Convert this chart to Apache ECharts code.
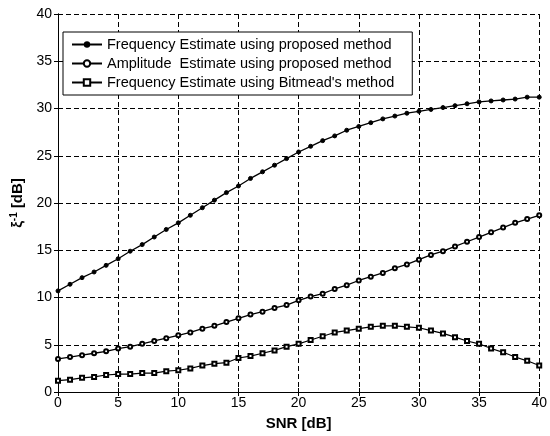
<!DOCTYPE html>
<html>
<head>
<meta charset="utf-8">
<script src="https://cdn.jsdelivr.net/npm/echarts@6/dist/echarts.min.js"></script>
<style>
  html, body { margin: 0; padding: 0; background: #fff; }
  #chart { width: 550px; height: 436px; }
</style>
</head>
<body>
<div id="chart"></div>
<script>
// SNR values, 0..40 dB
const snr = [0,1,2,3,4,5,6,7,8,9,10,11,12,13,14,15,16,17,18,19,20,21,22,23,24,25,26,27,28,29,30,31,32,33,34,35,36,37,38,39,40];

const freqProposed = [10.7,11.4,12.1,12.7,13.4,14.1,14.9,15.6,16.4,17.2,17.9,18.7,19.5,20.3,21.1,21.8,22.6,23.3,24.0,24.7,25.4,26.0,26.6,27.1,27.7,28.1,28.5,28.9,29.2,29.5,29.7,29.9,30.1,30.3,30.5,30.7,30.8,30.9,31.0,31.2,31.2];
const ampProposed = [3.5,3.7,3.9,4.1,4.3,4.6,4.8,5.1,5.4,5.7,6.0,6.3,6.7,7.0,7.4,7.8,8.2,8.5,8.9,9.2,9.7,10.1,10.4,10.9,11.3,11.8,12.2,12.6,13.1,13.5,14.0,14.5,14.9,15.4,15.9,16.4,16.9,17.4,17.9,18.3,18.7];
const freqBitmead = [1.2,1.3,1.5,1.6,1.8,1.9,1.9,2.0,2.0,2.2,2.3,2.5,2.8,3.0,3.1,3.6,3.8,4.1,4.4,4.8,5.1,5.5,5.9,6.3,6.5,6.7,6.9,7.0,7.0,6.9,6.8,6.5,6.2,5.8,5.4,5.1,4.6,4.2,3.7,3.3,2.8];

const names = [
  "Frequency Estimate using proposed method",
  "Amplitude  Estimate using proposed method",
  "Frequency Estimate using Bitmead's method"
];

function pairs(ys) {
  return snr.map((x, i) => [x, ys[i]]);
}

const font = "Liberation Sans, Arial, sans-serif";
const gridLine = { show: true, lineStyle: { color: "#000", type: [5, 3], width: 1 } };

const chart = echarts.init(document.getElementById("chart"));
chart.setOption({
  animation: false,
  backgroundColor: "#fff",
  grid: { left: 58, right: 10, top: 14, bottom: 26 },
  legend: {
    orient: "vertical",
    left: 63,
    top: 32,
    padding: [5, 18, 5, 8],
    itemGap: 4,
    itemWidth: 30,
    itemHeight: 8,
    backgroundColor: "#fff",
    borderColor: "#000",
    borderWidth: 1,
    textStyle: { fontFamily: font, fontSize: 14.5, color: "#000" },
    data: names
  },
  xAxis: [{
    type: "value",
    min: 0, max: 40, interval: 5,
    name: "SNR [dB]",
    nameLocation: "middle",
    nameGap: 24,
    nameTextStyle: { fontFamily: font, fontSize: 15, fontWeight: "bold", color: "#000" },
    axisLine: { lineStyle: { color: "#000" } },
    axisTick: { inside: true, length: 4, lineStyle: { color: "#000" } },
    axisLabel: { fontFamily: font, fontSize: 14, color: "#000", margin: 4 },
    splitLine: gridLine
  }, {
    type: "value", position: "top",
    min: 0, max: 40, interval: 5,
    axisLine: { show: true, lineStyle: { color: "#000" } },
    axisTick: { inside: true, length: 4, lineStyle: { color: "#000" } },
    axisLabel: { show: false },
    splitLine: { show: false }
  }],
  yAxis: [{
    type: "value",
    min: 0, max: 40, interval: 5,
    name: "{a|ξ}{s|-1}{a| [dB]}",
    nameLocation: "middle",
    nameGap: 26,
    nameRotate: 90,
    nameTextStyle: {
      fontFamily: font, fontSize: 15, fontWeight: "bold", color: "#000",
      rich: {
        a: { fontFamily: font, fontSize: 15, fontWeight: "bold", color: "#000" },
        s: { fontFamily: font, fontSize: 10, fontWeight: "bold", color: "#000", verticalAlign: "top", padding: [0, 0, 8, 0] }
      }
    },
    axisLine: { show: true, lineStyle: { color: "#000" } },
    axisTick: { inside: true, length: 4, lineStyle: { color: "#000" } },
    axisLabel: { fontFamily: font, fontSize: 14, color: "#000", margin: 6 },
    splitLine: gridLine
  }, {
    type: "value", position: "right",
    min: 0, max: 40, interval: 5,
    axisLine: { show: true, lineStyle: { color: "#000" } },
    axisTick: { inside: true, length: 4, lineStyle: { color: "#000" } },
    axisLabel: { show: false },
    splitLine: { show: false }
  }],
  series: [{
    name: names[0],
    type: "line",
    data: pairs(freqProposed),
    symbol: "circle",
    symbolSize: 4,
    itemStyle: { color: "#000", borderColor: "#000" },
    lineStyle: { color: "#000", width: 1.3 }
  }, {
    name: names[1],
    type: "line",
    data: pairs(ampProposed),
    symbol: "emptyCircle",
    symbolSize: 4,
    itemStyle: { color: "#000", borderColor: "#000", borderWidth: 1.1 },
    lineStyle: { color: "#000", width: 1.3 }
  }, {
    name: names[2],
    type: "line",
    data: pairs(freqBitmead),
    symbol: "emptyRect",
    symbolSize: 4,
    itemStyle: { color: "#000", borderColor: "#000", borderWidth: 1 },
    lineStyle: { color: "#000", width: 1.2 }
  }]
});
</script>
</body>
</html>
